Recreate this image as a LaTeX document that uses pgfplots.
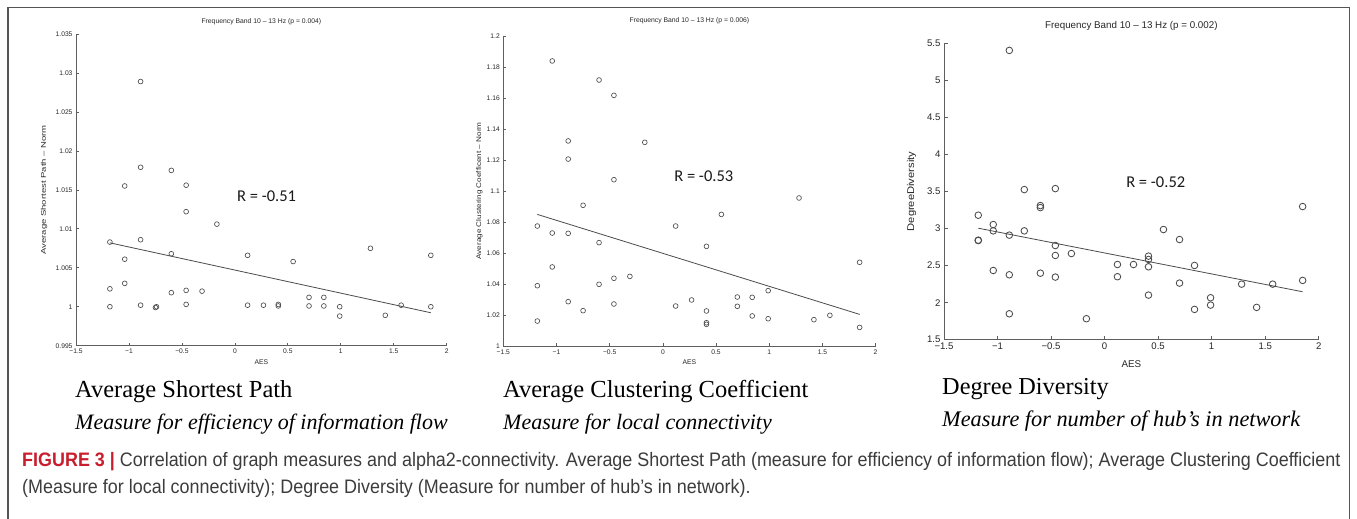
\documentclass[border=0pt]{standalone}
\usepackage{fontspec}
\setmainfont{Liberation Sans}
\newfontfamily\carlito{Carlito}
\newfontfamily\timesf{Liberation Serif}
\newfontfamily\capfont[FakeStretch=0.92]{Liberation Sans}
\usepackage{pgfplots}
\pgfplotsset{compat=1.18}
\definecolor{axgray}{RGB}{95,95,95}
\definecolor{mkgray}{RGB}{75,75,75}
\definecolor{figred}{RGB}{200,30,45}
\definecolor{captxt}{RGB}{60,60,60}
\definecolor{framec}{RGB}{85,85,85}

\pgfplotstableread{
x y
-1.18 1.0083
-1.18 1.0023
-1.18 1.0000
-1.04 1.0155
-1.04 1.0061
-1.04 1.0030
-0.89 1.0289
-0.89 1.0179
-0.89 1.0086
-0.89 1.0002
-0.75 0.9999
-0.74 1.0000
-0.60 1.0175
-0.60 1.0068
-0.60 1.0018
-0.46 1.0156
-0.46 1.0122
-0.46 1.0021
-0.46 1.0003
-0.31 1.0020
-0.17 1.0106
0.12 1.0066
0.12 1.0002
0.27 1.0002
0.41 1.0001
0.41 1.0003
0.55 1.0058
0.70 1.0012
0.70 1.0001
0.84 1.0012
0.84 1.0001
0.99 1.0000
0.99 0.9988
1.28 1.0075
1.42 0.9989
1.57 1.0002
1.85 1.0066
1.85 1.0000
}\tabA

\pgfplotstableread{
x y
-1.18 1.0774
-1.18 1.0389
-1.18 1.0161
-1.04 1.1839
-1.04 1.0729
-1.04 1.0510
-0.89 1.1323
-0.89 1.1206
-0.89 1.0727
-0.89 1.0286
-0.75 1.0908
-0.75 1.0228
-0.60 1.1716
-0.60 1.0667
-0.60 1.0398
-0.46 1.1617
-0.46 1.1073
-0.46 1.0437
-0.46 1.0271
-0.31 1.0449
-0.17 1.1314
0.12 1.0774
0.12 1.0258
0.27 1.0297
0.41 1.0643
0.41 1.0226
0.41 1.0140
0.41 1.0150
0.55 1.0849
0.70 1.0316
0.70 1.0256
0.84 1.0314
0.84 1.0194
0.99 1.0357
0.99 1.0176
1.28 1.0955
1.42 1.0170
1.57 1.0198
1.85 1.0540
1.85 1.0120
}\tabB

\pgfplotstableread{
x y
-1.18 3.180
-1.18 2.843
-1.18 2.838
-1.04 3.054
-1.04 2.969
-1.04 2.434
-0.89 5.404
-0.89 2.911
-0.89 2.376
-0.89 1.850
-0.75 3.526
-0.75 2.969
-0.60 3.310
-0.60 3.283
-0.60 2.398
-0.46 3.539
-0.46 2.771
-0.46 2.637
-0.46 2.345
-0.31 2.663
-0.17 1.783
0.12 2.515
0.12 2.350
0.27 2.515
0.41 2.628
0.41 2.583
0.41 2.484
0.41 2.102
0.55 2.987
0.70 2.852
0.70 2.264
0.84 2.502
0.84 1.909
0.99 2.066
0.99 1.967
1.28 2.250
1.42 1.936
1.57 2.250
1.85 3.297
1.85 2.300
}\tabC

\pgfplotsset{
  mstyle/.style={
    scale only axis,
    axis lines*=left,
    axis line style={draw=axgray, line width=0.8pt, -},
    tick style={draw=axgray, line width=0.7pt},
    major tick length=3pt,
    tick align=inside,
    xmin=-1.5, xmax=2,
    xtick={-1.5,-1,-0.5,0,0.5,1,1.5,2},
    xticklabels={−1.5,−1,−0.5,0,0.5,1,1.5,2},
    clip=false,
    anchor=south west,
    tick label style={text=black!85},
    label style={text=black!85},
    title style={text=black!85},
  },
  small/.style={
    tick label style={font=\fontsize{6.7}{7}\selectfont},
    title style={font=\fontsize{6.8}{8}\selectfont},
    label style={font=\fontsize{6.8}{8}\selectfont},
  },
  mk/.style={only marks, mark=o, mark size=2.4pt, mark options={draw=mkgray, line width=0.65pt}},
  mkbig/.style={only marks, mark=o, mark size=3.3pt, mark options={draw=mkgray, line width=0.85pt}},
  fit/.style={no marks, draw=mkgray, line width=0.8pt},
}

\begin{document}
\begin{tikzpicture}
\useasboundingbox (0,0) rectangle (1357pt,-519pt);
\draw[framec, line width=1.8pt] (8pt,-530pt) -- (8pt,-7.5pt) -- (1349.5pt,-7.5pt) -- (1349.5pt,-530pt);

% Panel 1
\begin{axis}[mstyle, small, at={(76pt,-345.7pt)}, width=370.7pt, height=311.7pt,
  ymin=0.995, ymax=1.035,
  ytick={0.995,1,1.005,1.01,1.015,1.02,1.025,1.03,1.035},
  yticklabels={0.995,1,1.005,1.01,1.015,1.02,1.025,1.03,1.035},
  title={Frequency Band 10 -- 13 Hz (p = 0.004)},
  title style={at={(axis description cs:0.5,1.019)}, anchor=center},
  xlabel={AES},
  xlabel style={at={(axis description cs:0.5,-0.0523)}, anchor=center},
  ylabel={\scalebox{1.4}[1]{Average Shortest Path -- Norm}},
  ylabel style={at={(axis description cs:-0.0863,0.5)}, anchor=center},
]
\addplot[mk] table[x=x,y=y] {\tabA};
\addplot[fit] coordinates {(-1.18,1.0082) (1.85,0.99923)};
\node[font=\carlito\fontsize{16.5}{18}\selectfont, text=black!90] at (axis cs:0.30,1.0142) {R = -0.51};
\end{axis}

% Panel 2
\begin{axis}[mstyle, small, at={(503.3pt,-346pt)}, width=372.3pt, height=310pt,
  ymin=1, ymax=1.2,
  ytick={1,1.02,1.04,1.06,1.08,1.1,1.12,1.14,1.16,1.18,1.2},
  yticklabels={1,1.02,1.04,1.06,1.08,1.1,1.12,1.14,1.16,1.18,1.2},
  title={Frequency Band 10 -- 13 Hz (p = 0.006)},
  title style={at={(axis description cs:0.5,1.029)}, anchor=center},
  xlabel={AES},
  xlabel style={at={(axis description cs:0.5,-0.0516)}, anchor=center},
  ylabel={\scalebox{1.2}[1]{Average Clustering Coefficent -- Norm}},
  ylabel style={at={(axis description cs:-0.0645,0.5)}, anchor=center},
]
\addplot[mk] table[x=x,y=y] {\tabB};
\addplot[fit] coordinates {(-1.18,1.0849) (1.85,1.0204)};
\node[font=\carlito\fontsize{16.5}{18}\selectfont, text=black!90] at (axis cs:0.385,1.1097) {R = -0.53};
\end{axis}

% Panel 3
\begin{axis}[mstyle, at={(944pt,-339.7pt)}, width=374.7pt, height=296.4pt,
  major tick length=4pt,
  tick label style={font=\fontsize{9.6}{11}\selectfont},
  title style={font=\fontsize{9.8}{11}\selectfont},
  label style={font=\fontsize{9.8}{11}\selectfont},
  ymin=1.5, ymax=5.5,
  ytick={1.5,2,2.5,3,3.5,4,4.5,5,5.5},
  yticklabels={1.5,2,2.5,3,3.5,4,4.5,5,5.5},
  title={Frequency Band 10 -- 13 Hz (p = 0.002)},
  title style={at={(axis description cs:0.5,1.039)}, anchor=center},
  xlabel={AES},
  xlabel style={at={(axis description cs:0.5,-0.082)}, anchor=center},
  ylabel={\scalebox{1.14}[1]{DegreeDiversity}},
  ylabel style={at={(axis description cs:-0.0862,0.5)}, anchor=center},
]
\addplot[mkbig] table[x=x,y=y] {\tabC};
\addplot[fit] coordinates {(-1.18,3.005) (1.85,2.147)};
\node[font=\carlito\fontsize{16.5}{18}\selectfont, text=black!90] at (axis cs:0.478,3.625) {R = -0.52};
\end{axis}

% Subtitles
\node[anchor=base west, inner sep=0, font=\timesf\fontsize{24.5}{26}\selectfont] at (75pt,-397.7pt) {Average Shortest Path};
\node[anchor=base west, inner sep=0, font=\timesf\itshape\fontsize{22}{24}\selectfont] at (75pt,-429pt) {Measure for efficiency of information flow};
\node[anchor=base west, inner sep=0, font=\timesf\fontsize{24.5}{26}\selectfont] at (503pt,-397.7pt) {Average Clustering Coefficient};
\node[anchor=base west, inner sep=0, font=\timesf\itshape\fontsize{22}{24}\selectfont] at (503pt,-429pt) {Measure for local connectivity};
\node[anchor=base west, inner sep=0, font=\timesf\fontsize{24.3}{26}\selectfont] at (942pt,-394pt) {Degree Diversity};
\node[anchor=base west, inner sep=0, font=\timesf\itshape\fontsize{22.3}{24}\selectfont] at (942pt,-426pt) {Measure for number of hub’s in network};

% Caption
\node[anchor=base west, inner sep=0, font=\capfont\fontsize{19.5}{21}\selectfont, text=captxt] at (22pt,-466pt) {\textcolor{figred}{\bfseries FIGURE 3 |} Correlation of graph measures and alpha2-connectivity. Average Shortest Path (measure for efficiency of information flow); Average Clustering Coefficient};
\node[anchor=base west, inner sep=0, font=\capfont\fontsize{19.5}{21}\selectfont, text=captxt] at (22pt,-493pt) {(Measure for local connectivity); Degree Diversity (Measure for number of hub’s in network).};
\end{tikzpicture}
\end{document}
